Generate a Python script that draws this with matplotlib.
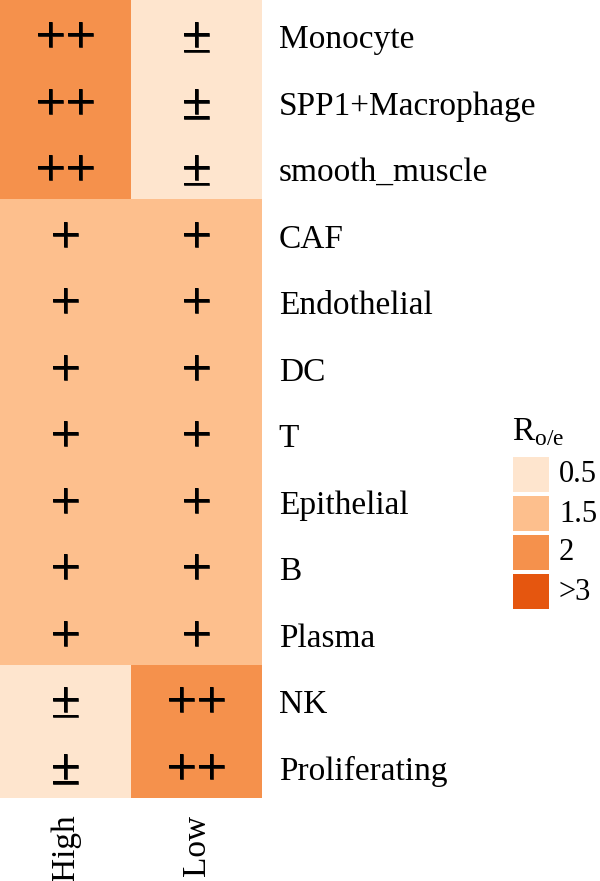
import matplotlib
matplotlib.use("Agg")
import matplotlib.pyplot as plt
import matplotlib.patheffects as pe
import numpy as np
from matplotlib.colors import ListedColormap
from matplotlib.patches import Rectangle

plt.rcParams['font.family'] = ['Liberation Serif', 'DejaVu Serif']

cell_types = ["Monocyte", "SPP1+Macrophage", "smooth_muscle", "CAF", "Endothelial",
              "DC", "T", "Epithelial", "B", "Plasma", "NK", "Proliferating"]
groups = ["High", "Low"]
# level index: 0 -> "±" (0.5), 1 -> "+" (1.5), 2 -> "++" (2), 3 -> ">3"
high_level = [2, 2, 2, 1, 1, 1, 1, 1, 1, 1, 0, 0]
low_level = [0, 0, 0, 1, 1, 1, 1, 1, 1, 1, 2, 2]
symbols = ["±", "+", "++", "+++"]
legend_labels = ["0.5", "1.5", "2", ">3"]
colors = ["#FEE5CE", "#FDBF8D", "#F5914C", "#E5560F"]

W, H = 600, 881
fig = plt.figure(figsize=(W / 100, H / 100), dpi=100)
ax = fig.add_axes([0, 83 / H, 262 / W, 798 / H])

data = np.array([high_level, low_level]).T
cmap = ListedColormap(colors)
ax.imshow(data, cmap=cmap, vmin=-0.5, vmax=3.5, aspect='auto', interpolation='nearest')

for i in range(len(cell_types)):
    for j in range(len(groups)):
        ax.text(j, i + 0.09, symbols[data[i, j]], ha='center', va='center',
                fontsize=38, color='black',
                path_effects=[pe.withStroke(linewidth=0.4, foreground='black')])

ax.set_xticks(range(len(groups)))
ax.set_xticklabels(groups, rotation=90, fontsize=24, va='top', ha='center')
ax.set_yticks(np.arange(len(cell_types)) + 0.1)
ax.set_yticklabels(cell_types, fontsize=24, va='center')
ax.yaxis.tick_right()
ax.tick_params(axis='y', length=0, pad=12)
ax.tick_params(axis='x', length=0, pad=12)
ax.set_ylim(len(cell_types) - 0.5, -0.5)
for s in ax.spines.values():
    s.set_visible(False)

# legend drawn in pixel coordinates of the figure
def fx(px):
    return px / W

def fy(py):
    return 1 - py / H

fig.text(fx(512), fy(440), "R$_{\\mathregular{o/e}}$", fontsize=24, ha='left', va='baseline')
key_top = [457, 496, 535, 574]
for c, lab, top in zip(colors, legend_labels, key_top):
    fig.patches.append(Rectangle((fx(513), fy(top + 35)), 36 / W, 35 / H,
                                 transform=fig.transFigure, facecolor=c, edgecolor='none'))
    fig.text(fx(559), fy(top + 18), lab, fontsize=22, ha='left', va='center')

fig.savefig("out.png", dpi=100)
